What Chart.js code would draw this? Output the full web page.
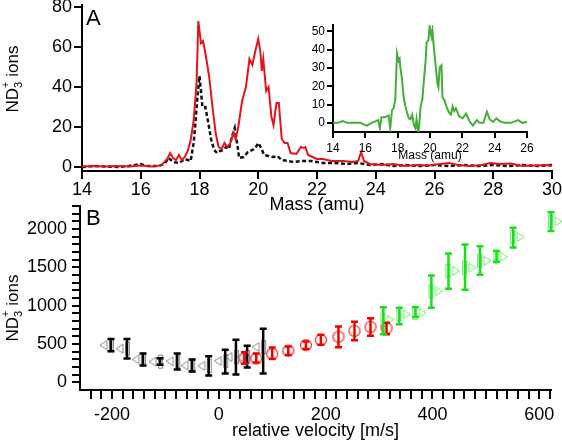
<!DOCTYPE html>
<html>
<head>
<meta charset="utf-8">
<style>
    html, body { margin: 0; padding: 0; background: #fff; }
    #wrap { position: relative; width: 562px; height: 440px; overflow: hidden; }
    canvas { position: absolute; }
</style>
<script src="https://cdn.jsdelivr.net/npm/chart.js@4.4.0/dist/chart.umd.min.js"></script>
</head>
<body>
<div id="wrap">
    <canvas id="chartA" width="562" height="225" style="left:0;top:0"></canvas>
    <canvas id="chartB" width="562" height="245" style="left:0;top:195px"></canvas>
    <canvas id="chartInset" width="244" height="160" style="left:296px;top:16px"></canvas>
</div>
<script>
// ---- panel A: mass spectra ----
const massRed = [14.0, 14.4, 14.8, 15.2, 15.6, 16.0, 16.4, 16.7, 16.9, 17.0, 17.1, 17.2, 17.3, 17.4, 17.5,
    17.6, 17.7, 17.8, 17.9, 17.96, 18.05, 18.12, 18.2, 18.33, 18.45, 18.55, 18.65, 18.75, 18.85, 18.95,
    19.05, 19.15, 19.23, 19.32, 19.45, 19.58, 19.7, 19.8, 19.9, 20.0, 20.07, 20.12, 20.17, 20.27, 20.35,
    20.45, 20.52, 20.62, 20.7, 20.8, 20.9, 21.0, 21.1, 21.3, 21.45, 21.55, 21.6, 21.7, 21.85, 22.0,
    22.2, 22.5, 22.9, 23.2, 23.4, 23.5, 23.6, 23.8, 24.2, 24.6, 25.0, 25.4, 25.8, 26.2, 26.5,
    26.8, 27.2, 27.6, 27.9, 28.2, 28.6, 29.0, 29.4, 29.8, 30.0];
const ionsRed = [0.3, 0.5, 0.2, 0.5, 0.3, 0.8, 0.3, 0.8, 4, 7, 4.5, 3.5, 6, 3.5, 5,
    8, 13.5, 23, 42, 73, 62, 63, 57, 45, 29, 17, 10, 9, 12, 10,
    12, 17, 14, 20, 33, 40, 54, 51, 58, 64, 58, 48, 54, 38, 40,
    25, 21, 32, 32, 14, 12, 12, 7, 6.5, 10, 9.5, 10, 6, 5, 4,
    4, 3, 3, 2.5, 3, 7.5, 3, 1.5, 1, 1.5, 0.5, 1, 0.8, 1.5, 2,
    1, 0.5, 1, 2, 1.5, 1.8, 0.5, 0.8, 1, 0.5];

const massBlack = [14.0, 14.4, 14.8, 15.2, 15.6, 16.0, 16.2, 16.6, 16.8, 16.95, 17.1, 17.3, 17.5, 17.7, 17.8,
    17.85, 17.93, 18.0, 18.05, 18.1, 18.2, 18.3, 18.4, 18.5, 18.6, 18.7, 18.8, 18.9, 19.0, 19.1,
    19.2, 19.28, 19.35, 19.5, 19.65, 19.8, 19.9, 20.0, 20.1, 20.2, 20.35, 20.5, 20.65, 20.8, 21.0,
    21.2, 21.5, 21.8, 22.2, 22.6, 23.0, 23.4, 23.8, 24.2, 24.6, 25.0, 25.5, 26.0, 26.5, 27.0,
    27.5, 28.0, 28.5, 29.0, 29.5, 30.0];
const ionsBlack = [0, 0.5, 0.3, 0, 0.5, 1.5, 0.5, 0.5, 1.5, 4.5, 2.5, 2, 4, 3, 12,
    20, 35, 45.5, 38, 30, 30, 22, 13.5, 8.5, 7, 8, 8.5, 10, 9, 15,
    19.5, 12, 4.5, 5, 7.5, 8.5, 9.5, 12, 9.5, 6, 5.5, 5, 5.5, 3.5, 3,
    2.5, 3, 3, 2, 2, 1.5, 2, 1, 1.5, 0.5, 1, 0.5, 1, 0.5, 1,
    0.5, 1, 0.5, 1, 0.5, 1];

// inset
const massGreen = [14.0, 14.3, 14.6, 14.9, 15.3, 15.7, 16.08, 16.4, 16.8, 16.9, 17.0, 17.2, 17.44, 17.54, 17.65,
    17.75, 17.85, 17.96, 18.06, 18.12, 18.17, 18.27, 18.37, 18.48, 18.58, 18.69, 18.79, 18.9, 19.0, 19.1,
    19.17, 19.27, 19.33, 19.42, 19.52, 19.62, 19.73, 19.79, 19.9, 19.98, 20.04, 20.1, 20.15, 20.25, 20.35,
    20.46, 20.52, 20.6, 20.71, 20.77, 20.88, 20.98, 21.05, 21.19, 21.3, 21.4, 21.5, 21.6, 21.81, 22.02,
    22.23, 22.44, 22.65, 22.9, 23.06, 23.3, 23.52, 23.69, 23.9, 24.1, 24.3, 24.6, 25.0, 25.46, 25.7, 26.0];
const ionsGreen = [0, 0, 1, 0, 0, 0, -1.5, 0, 1.5, -3, 3, 3, 4, -3, 7,
    8, 12.5, 38, 34, 35, 30, 24, 14, 9, 5.5, 2.5, 2, 4.5, -1, -3,
    2, -5, -2, 9, 12.5, 23, 34, 44, 45, 53, 49, 47, 50.5, 40, 31.5,
    21.5, 19.5, 30.5, 31.5, 14, 12.5, 10, 8, 5.5, 4.5, 9, 6.5, 8, 3.5, 2.5,
    5, 1, -1.5, 1.5, 0, 0, 6, 2, 0.5, 2.5, 1, 0, 0, 1.5, 0, 0.5];

const ticksMassA = [14, 16, 18, 20, 22, 24, 26, 28, 30];
const ticksIonsA = [0, 20, 40, 60, 80];
const ticksMassInset = [14, 16, 18, 20, 22, 24, 26];
const ticksIonsInset = [0, 10, 20, 30, 40, 50];

// ---- panel B: ions vs relative velocity ----
const velBlack = [-202, -172, -142, -110, -78, -50, -19, 12, 32, 53, 83];
const ionsVelBlack = [485, 440, 300, 270, 275, 220, 215, 280, 330, 330, 460];
const lowBlack = [405, 310, 220, 228, 168, 142, 90, 116, 103, 194, 116];
const highBlack = [565, 565, 375, 314, 375, 297, 340, 426, 555, 477, 700];

const velRed = [48, 70, 100, 130, 163, 191, 224, 254, 284, 314];
const ionsVelRed = [310, 310, 370, 413, 486, 551, 594, 671, 723, 706];
const lowRed = [241, 258, 305, 357, 435, 490, 456, 550, 606, 628];
const highRed = [391, 375, 455, 468, 533, 620, 727, 791, 835, 778];

const velGreen = [308, 338, 368, 398, 430, 461, 489, 520, 551, 622];
const ionsVelGreen = [817, 886, 907, 1187, 1454, 1497, 1587, 1639, 1897, 2099];
const lowGreen = [628, 757, 852, 972, 1221, 1209, 1402, 1574, 1759, 1974];
const highGreen = [980, 972, 980, 1394, 1681, 1797, 1776, 1712, 2017, 2219];

const ticksVel = [];
for (let v = -240; v <= 620; v += 20) ticksVel.push(v);
const ticksIonsB = [];
for (let v = 0; v <= 2300; v += 100) ticksIonsB.push(v);

const FONT = "'Liberation Sans', Arial, Helvetica, sans-serif";

function points(xs, ys) {
    return xs.map((x, i) => ({ x, y: ys[i] }));
}

function fixedWidth(w) {
    return (scale) => {
        scale.width = w;
        scale.paddingTop = 0;
        scale.paddingBottom = 0;
    };
}

function fixedHeight(h) {
    return (scale) => {
        scale.height = h;
        scale.paddingLeft = 0;
        scale.paddingRight = 0;
    };
}

function axis(opts) {
    return {
        type: "linear",
        min: opts.min,
        max: opts.max,
        afterBuildTicks: (scale) => {
            scale.ticks = opts.ticks.map((v) => ({ value: v }));
        },
        afterFit: opts.fit,
        border: { display: true, color: "#000", width: 2 },
        grid: {
            drawOnChartArea: false,
            drawTicks: true,
            tickLength: opts.tickLength,
            color: "#000",
            tickColor: "#000",
            lineWidth: 2,
            tickWidth: 2,
        },
        ticks: {
            color: "#000",
            font: { family: FONT, size: opts.fontSize },
            padding: opts.padding,
            autoSkip: false,
            maxRotation: 0,
            callback: opts.label || ((v) => v),
        },
        title: opts.title
            ? {
                display: true,
                text: opts.title,
                color: "#000",
                font: { family: FONT, size: opts.titleSize, lineHeight: 1 },
                padding: { top: 0, bottom: opts.titlePad },
            }
            : { display: false },
    };
}

// letter + rotated "ND3+ ions" title
function panelText(cfg) {
    return {
        id: "panelText" + cfg.letter,
        afterDraw(chart) {
            const ctx = chart.ctx;
            ctx.save();
            ctx.fillStyle = "#000";
            ctx.textBaseline = "alphabetic";
            ctx.textAlign = "left";
            ctx.font = `22px ${FONT}`;
            ctx.fillText(cfg.letter, cfg.letterX, cfg.letterY);

            ctx.translate(cfg.titleX, cfg.titleY);
            ctx.rotate(-Math.PI / 2);
            const big = `17px ${FONT}`;
            const small = `11px ${FONT}`;
            ctx.font = big;
            const wND = ctx.measureText("ND").width;
            const wIons = ctx.measureText(" ions").width;
            ctx.font = small;
            const wScript = Math.max(ctx.measureText("3").width, ctx.measureText("+").width);
            let x = -(wND + wScript + wIons) / 2;
            ctx.font = big;
            ctx.fillText("ND", x, 0);
            x += wND;
            ctx.font = small;
            ctx.fillText("3", x, 4);
            ctx.fillText("+", x, -9);
            x += wScript;
            ctx.font = big;
            ctx.fillText(" ions", x, 0);
            ctx.restore();
        },
    };
}

const errorBars = {
    id: "errorBars",
    afterDatasetsDraw(chart) {
        const ctx = chart.ctx;
        const yScale = chart.scales.y;
        chart.data.datasets.forEach((ds, di) => {
            if (!ds.errLow) return;
            const meta = chart.getDatasetMeta(di);
            ctx.save();
            ctx.strokeStyle = ds.barColor;
            ctx.lineWidth = 2.5;
            meta.data.forEach((pt, i) => {
                const top = yScale.getPixelForValue(ds.errHigh[i]);
                const bot = yScale.getPixelForValue(ds.errLow[i]);
                ctx.beginPath();
                ctx.moveTo(pt.x, top);
                ctx.lineTo(pt.x, bot);
                ctx.moveTo(pt.x - 3.5, top);
                ctx.lineTo(pt.x + 3.5, top);
                ctx.moveTo(pt.x - 3.5, bot);
                ctx.lineTo(pt.x + 3.5, bot);
                ctx.stroke();
            });
            ctx.restore();
        });
    },
};

function makeMarker(kind) {
    const c = document.createElement("canvas");
    c.width = 28;
    c.height = 20;
    const g = c.getContext("2d");
    g.lineWidth = 1;
    if (kind === "left") {
        g.strokeStyle = "#8a8a8a";
        g.beginPath();
        g.moveTo(3, 10);
        g.lineTo(10, 5.5);
        g.lineTo(10, 14.5);
        g.closePath();
        g.stroke();
        g.strokeRect(12.5, 3.5, 4, 13);
    } else if (kind === "right") {
        g.strokeStyle = "#66ee66";
        g.beginPath();
        g.moveTo(25, 10);
        g.lineTo(18, 5.5);
        g.lineTo(18, 14.5);
        g.closePath();
        g.stroke();
        g.strokeRect(11.5, 3.5, 4, 13);
    } else {
        g.strokeStyle = "#ff2020";
        g.lineWidth = 1.2;
        g.beginPath();
        g.arc(14, 10, 5.5, 0, Math.PI * 2);
        g.stroke();
    }
    return c;
}

const common = {
    responsive: false,
    devicePixelRatio: 1,
    animation: false,
    events: [],
    plugins: { legend: { display: false }, tooltip: { enabled: false } },
};

new Chart(document.getElementById("chartA"), {
    type: "line",
    data: {
        datasets: [
            {
                data: points(massRed, ionsRed),
                borderColor: "#e3141b",
                borderWidth: 2,
                pointRadius: 0,
                tension: 0,
            },
            {
                data: points(massBlack, ionsBlack),
                borderColor: "#111",
                borderWidth: 2.5,
                borderDash: [4, 2.5],
                pointRadius: 0,
                tension: 0,
            },
        ],
    },
    options: {
        ...common,
        layout: { padding: { top: 5, right: 10, left: 0, bottom: 0 } },
        scales: {
            x: axis({ min: 14, max: 30, ticks: ticksMassA, fit: fixedHeight(54), tickLength: 8, fontSize: 18, padding: 0,
                title: "Mass (amu)", titleSize: 18, titlePad: 11 }),
            y: axis({ min: -2, max: 81, ticks: ticksIonsA, fit: fixedWidth(82), tickLength: 8, fontSize: 18, padding: 2 }),
        },
    },
    plugins: [panelText({ letter: "A", letterX: 86, letterY: 25, titleX: 18, titleY: 79 })],
});

new Chart(document.getElementById("chartInset"), {
    type: "line",
    data: {
        datasets: [
            {
                data: points(massGreen, ionsGreen),
                borderColor: "#45ad3a",
                borderWidth: 2,
                pointRadius: 0,
                tension: 0,
            },
        ],
    },
    options: {
        ...common,
        layout: { padding: { top: 9, right: 13, left: 0, bottom: 0 } },
        scales: {
            x: axis({ min: 14, max: 26, ticks: ticksMassInset, fit: fixedHeight(44), tickLength: 6, fontSize: 12, padding: 3,
                title: "Mass (amu)", titleSize: 12, titlePad: 14 }),
            y: axis({ min: -5, max: 53.5, ticks: ticksIonsInset, fit: fixedWidth(37), tickLength: 6, fontSize: 12, padding: 2 }),
        },
    },
});

new Chart(document.getElementById("chartB"), {
    type: "scatter",
    data: {
        datasets: [
            {
                data: points(velBlack, ionsVelBlack),
                pointStyle: makeMarker("left"),
                pointRadius: 10,
                errLow: lowBlack,
                errHigh: highBlack,
                barColor: "#000",
            },
            {
                data: points(velRed, ionsVelRed),
                pointStyle: makeMarker("circle"),
                pointRadius: 10,
                errLow: lowRed,
                errHigh: highRed,
                barColor: "#f00000",
            },
            {
                data: points(velGreen, ionsVelGreen),
                pointStyle: makeMarker("right"),
                pointRadius: 10,
                errLow: lowGreen,
                errHigh: highGreen,
                barColor: "#18e018",
            },
        ],
    },
    options: {
        ...common,
        clip: false,
        layout: { padding: { top: 8, right: 9, left: 0, bottom: 0 } },
        scales: {
            x: axis({ min: -260, max: 622, ticks: ticksVel, fit: fixedHeight(50), tickLength: 9, fontSize: 18, padding: 5,
                label: (v) => (v % 200 === 0 ? v : ""),
                title: "relative velocity [m/s]", titleSize: 18, titlePad: 0 }),
            y: axis({ min: -100, max: 2300, ticks: ticksIonsB, fit: fixedWidth(80), tickLength: 8, fontSize: 18, padding: 5,
                label: (v) => (v % 500 === 0 ? v : "") }),
        },
    },
    plugins: [errorBars, panelText({ letter: "B", letterX: 86, letterY: 30, titleX: 18, titleY: 113 })],
});
</script>
</body>
</html>
